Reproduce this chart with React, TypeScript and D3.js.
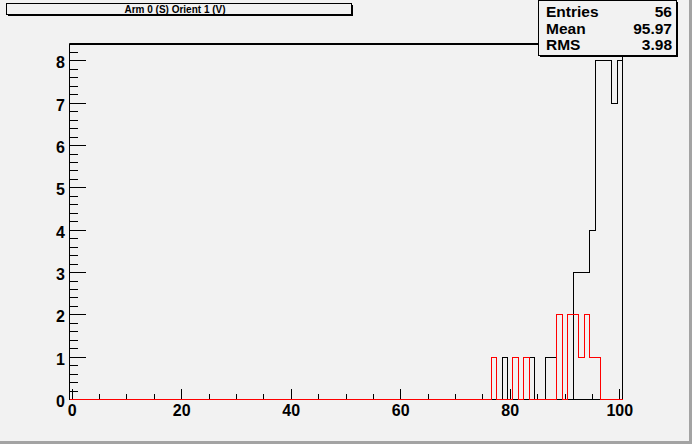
import React from 'react';
import * as d3 from 'd3';

const titleText = 'Arm 0 (S) Orient 1 (V)';
const xTickValues = [0, 20, 40, 60, 80, 100];
const yTickValues = [0, 1, 2, 3, 4, 5, 6, 7, 8];
const blackBins = [79, 84, 87, 88, 92, 93, 94, 95, 96, 97, 98, 99, 100];
const blackCounts = [1, 1, 1, 1, 3, 3, 3, 4, 8, 8, 8, 7, 8];
const redBins = [77, 81, 83, 89, 91, 92, 93, 94, 95, 96];
const redCounts = [1, 1, 1, 2, 2, 2, 1, 2, 1, 1];
const statLabels = ['Entries', 'Mean', 'RMS'];
const statValues = ['56', '95.97', '3.98'];

const W = 692;
const H = 444;
const BG = '#f2f2f2';
const FONT = '"Liberation Sans", Arial, Helvetica, sans-serif';
const fr = { l: 69.5, r: 622.5, t: 44, b: 399.5 };
const NBINS = 101;

const x = d3.scaleLinear().domain([-0.5, 100.5]).range([fr.l, fr.r]);
const y = d3.scaleLinear().domain([0, 8.4]).range([fr.b, fr.t]);

function histPath(bins: number[], counts: number[]): string {
  const full: number[] = new Array(NBINS).fill(0);
  bins.forEach((b, i) => { full[b] = counts[i]; });
  const pts: [number, number][] = [[x(-0.5), y(0)]];
  for (let k = 0; k < NBINS; k++) {
    pts.push([x(k - 0.5), y(full[k])]);
    pts.push([x(k + 0.5), y(full[k])]);
  }
  pts.push([x(100.5), y(0)]);
  return d3.line()(pts) || '';
}

export default function App() {
  const xMinor = d3.range(0, 101, 5).filter((v) => v % 20 !== 0);
  const yMinor = d3.range(0, 8.41, 0.2).filter((v) => Math.abs(v - Math.round(v)) > 1e-6);
  return (
    <svg width={W} height={H} style={{ position: 'absolute', left: 0, top: 0, display: 'block' }}
      fontFamily={FONT}>
      <rect x={0} y={0} width={W} height={H} fill={BG} />
      {/* canvas border */}
      <rect x={0} y={H - 3} width={W} height={3} fill="#a3a3a3" />
      <rect x={W - 3} y={0} width={3} height={H} fill="#a3a3a3" />

      {/* frame */}
      <rect x={fr.l} y={fr.t} width={fr.r - fr.l} height={fr.b - fr.t} fill="none" stroke="#000" strokeWidth={1} />
      <line x1={fr.l} x2={fr.r} y1={fr.t} y2={fr.t} stroke="#000" strokeWidth={2} />

      {/* y axis ticks */}
      {yTickValues.map((v) => (
        <line key={'ym' + v} x1={fr.l} x2={fr.l + 16} y1={y(v)} y2={y(v)} stroke="#000" strokeWidth={1} shapeRendering="crispEdges" />
      ))}
      {yMinor.map((v) => (
        <line key={'yn' + v} x1={fr.l} x2={fr.l + 8} y1={y(v)} y2={y(v)} stroke="#000" strokeWidth={1} shapeRendering="crispEdges" />
      ))}
      {yTickValues.map((v) => (
        <text key={'yl' + v} x={65} y={y(v) + 7.5} textAnchor="end" fontSize={16} fontWeight="bold" fill="#000">{v}</text>
      ))}

      {/* x axis ticks */}
      {xTickValues.map((v) => (
        <line key={'xm' + v} x1={x(v)} x2={x(v)} y1={fr.b} y2={fr.b - 11} stroke="#000" strokeWidth={1} shapeRendering="crispEdges" />
      ))}
      {xMinor.map((v) => (
        <line key={'xn' + v} x1={x(v)} x2={x(v)} y1={fr.b} y2={fr.b - 5.5} stroke="#000" strokeWidth={1} shapeRendering="crispEdges" />
      ))}
      {xTickValues.map((v) => (
        <text key={'xl' + v} x={x(v)} y={fr.b + 16.5} textAnchor="middle" fontSize={16} fontWeight="bold" fill="#000">{v}</text>
      ))}

      {/* histograms */}
      <path d={histPath(blackBins, blackCounts)} fill="none" stroke="#000" strokeWidth={1} shapeRendering="crispEdges" />
      <path d={histPath(redBins, redCounts)} fill="none" stroke="#ff0000" strokeWidth={1} shapeRendering="crispEdges" />

      {/* title box */}
      <rect x={8} y={5} width={345} height={11} fill="#000" />
      <rect x={6.5} y={3.5} width={345} height={11} fill={BG} stroke="#000" strokeWidth={1} />
      <text x={175} y={12.5} textAnchor="middle" fontSize={10} fontWeight="bold" fill="#000">{titleText}</text>

      {/* stats box */}
      <rect x={540} y={2} width={138} height={55} fill="#000" />
      <rect x={538.5} y={0.5} width={138} height={55} fill={BG} stroke="#000" strokeWidth={1} />
      {statLabels.map((s, i) => (
        <text key={'sl' + s} x={546} y={17 + i * 16.5} fontSize={15.5} fontWeight="bold" fill="#000">{s}</text>
      ))}
      {statValues.map((s, i) => (
        <text key={'sv' + i} x={672} y={17 + i * 16.5} textAnchor="end" fontSize={15.5} fontWeight="bold" fill="#000">{s}</text>
      ))}
    </svg>
  );
}
